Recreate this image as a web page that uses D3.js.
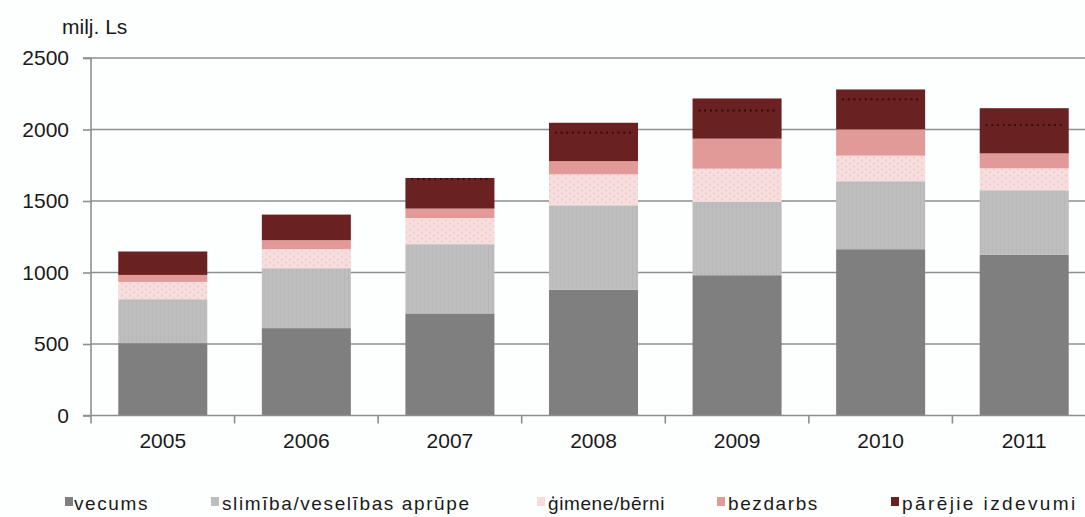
<!DOCTYPE html>
<html>
<head>
<meta charset="utf-8">
<script src="https://cdn.jsdelivr.net/npm/d3@7"></script>
<style>
  body { margin: 0; background: #fdfefe; }
  svg { display: block; font-family: "Liberation Sans", Arial, sans-serif; }
</style>
</head>
<body>
<div id="chart"></div>
<script>
// data (milj. Ls)
var years = ["2005", "2006", "2007", "2008", "2009", "2010", "2011"];
var seriesNames = ["vecums", "slimība/veselības aprūpe", "ģimene/bērni", "bezdarbs", "pārējie izdevumi"];
var vecums   = [506, 611, 714, 879, 981, 1163, 1123];
var slimiba  = [307, 419, 484, 591, 512, 475, 452];
var gimene   = [121, 133, 183, 216, 233, 179, 153];
var bezdarbs = [49, 63, 66, 93, 210, 184, 105];
var pareji   = [164, 179, 214, 268, 281, 279, 316];
// dotted marker inside the top segment
var dotted   = [null, null, 1655, 1978, 2133, 2210, 2031];
var yTicks = [0, 500, 1000, 1500, 2000, 2500];

var colors = ["#7f7f7f", "url(#pSlim)", "url(#pGim)", "#e29a98", "#6a2121"];
var swatchColors = ["#7f7f7f", "#bdbdbd", "#f6dcdc", "#e29a98", "#6a2121"];

var svgWidth = 1085, svgHeight = 517;
var margin = { top: 58, left: 91, bottom: 101 };
var plotRight = 1096;

var svg = d3.select("#chart").append("svg")
  .attr("width", svgWidth)
  .attr("height", svgHeight);

// fill patterns
var defs = svg.append("defs");
var pg = defs.append("pattern").attr("id", "pGim")
  .attr("patternUnits", "userSpaceOnUse").attr("width", 8).attr("height", 6);
pg.append("rect").attr("width", 8).attr("height", 6).attr("fill", "#f7dede");
pg.append("circle").attr("cx", 2).attr("cy", 1.5).attr("r", 0.9).attr("fill", "#ecc4c4");
pg.append("circle").attr("cx", 6).attr("cy", 4.5).attr("r", 0.9).attr("fill", "#ecc4c4");
var ps = defs.append("pattern").attr("id", "pSlim")
  .attr("patternUnits", "userSpaceOnUse").attr("width", 4).attr("height", 4);
ps.append("rect").attr("width", 4).attr("height", 4).attr("fill", "#bebebe");
ps.append("rect").attr("width", 1).attr("height", 4).attr("fill", "#b8b8b8");

var data = years.map(function (y, i) {
  return { year: y, vecums: vecums[i], slimiba: slimiba[i], gimene: gimene[i], bezdarbs: bezdarbs[i], pareji: pareji[i], dotted: dotted[i] };
});
var keys = ["vecums", "slimiba", "gimene", "bezdarbs", "pareji"];
var stacked = d3.stack().keys(keys)(data);

var x = d3.scaleBand()
  .domain(years)
  .range([margin.left, plotRight])
  .paddingInner(0.38)
  .paddingOuter(0.19);

var y = d3.scaleLinear()
  .domain([0, 2500])
  .range([svgHeight - margin.bottom - 0.5, margin.top]);

// gridlines
svg.append("g").selectAll("line")
  .data(yTicks.filter(function (d) { return d > 0; }))
  .enter().append("line")
  .attr("x1", margin.left).attr("x2", plotRight)
  .attr("y1", d => y(d)).attr("y2", d => y(d))
  .attr("stroke", "#8e8e8e").attr("stroke-width", 1.6);

// bars
svg.append("g").selectAll("g")
  .data(stacked)
  .enter().append("g")
  .attr("fill", (d, i) => colors[i])
  .selectAll("rect")
  .data(d => d)
  .enter().append("rect")
  .attr("x", d => x(d.data.year))
  .attr("width", x.bandwidth())
  .attr("y", d => y(d[1]))
  .attr("height", d => y(d[0]) - y(d[1]));

// dotted lines in top segment
svg.append("g").selectAll("line")
  .data(data.filter(d => d.dotted != null))
  .enter().append("line")
  .attr("x1", d => x(d.year) + 6)
  .attr("x2", d => x(d.year) + x.bandwidth() - 6)
  .attr("y1", d => y(d.dotted)).attr("y2", d => y(d.dotted))
  .attr("stroke", "#2b0808")
  .attr("stroke-width", 1.8)
  .attr("stroke-dasharray", "1.8,3.9");

// y axis
var leftAxis = d3.axisLeft(y).tickValues(yTicks).tickFormat(d3.format("d")).tickSize(8).tickPadding(14);
var gy = svg.append("g")
  .attr("transform", `translate(${margin.left},0)`)
  .call(leftAxis);
gy.select(".domain").attr("stroke", "#8e8e8e").attr("stroke-width", 1.6).attr("d", `M-8,${y(2500)}H0V${y(0)}`);
gy.selectAll(".tick line").attr("stroke", "#8e8e8e").attr("stroke-width", 1.6);
gy.selectAll(".tick text").attr("font-size", 21).attr("fill", "#1a1a1a")
  .attr("font-family", "Liberation Sans, Arial, sans-serif");

// x axis: ticks at category boundaries
var gx = svg.append("g");
gx.append("line")
  .attr("x1", margin.left - 8).attr("x2", plotRight)
  .attr("y1", y(0)).attr("y2", y(0))
  .attr("stroke", "#8e8e8e").attr("stroke-width", 1.6);
gx.selectAll(".xt")
  .data(years.slice(1))
  .enter().append("line")
  .attr("class", "xt")
  .attr("x1", d => x(d) - x.step() * x.paddingInner() / 2)
  .attr("x2", d => x(d) - x.step() * x.paddingInner() / 2)
  .attr("y1", y(0)).attr("y2", y(0) + 8)
  .attr("stroke", "#8e8e8e").attr("stroke-width", 1.6);
gx.append("line")
  .attr("x1", margin.left).attr("x2", margin.left)
  .attr("y1", y(0)).attr("y2", y(0) + 8)
  .attr("stroke", "#8e8e8e").attr("stroke-width", 1.6);
gx.selectAll("text")
  .data(years)
  .enter().append("text")
  .attr("x", d => x(d) + x.bandwidth() / 2)
  .attr("y", 448)
  .attr("text-anchor", "middle")
  .attr("font-size", 21)
  .attr("fill", "#1a1a1a")
  .text(d => d);

// unit label
svg.append("text")
  .attr("x", 62).attr("y", 34)
  .attr("font-size", 21)
  .attr("fill", "#1a1a1a")
  .text("milj. Ls");

// legend
var legendX = [65, 211, 537, 717, 891];
var legend = svg.append("g").selectAll("g")
  .data(seriesNames)
  .enter().append("g")
  .attr("transform", (d, i) => `translate(${legendX[i]},497)`);
legend.append("rect")
  .attr("width", 8).attr("height", 9)
  .attr("fill", (d, i) => swatchColors[i]);
legend.append("text")
  .attr("x", (d, i) => i === 0 ? 9 : 11)
  .attr("y", 13)
  .attr("font-size", 19)
  .attr("letter-spacing", (d, i) => i === 2 ? 0.6 : (i === 4 ? 2.4 : 1.6))
  .attr("fill", "#1a1a1a")
  .text(d => d);
</script>
</body>
</html>
